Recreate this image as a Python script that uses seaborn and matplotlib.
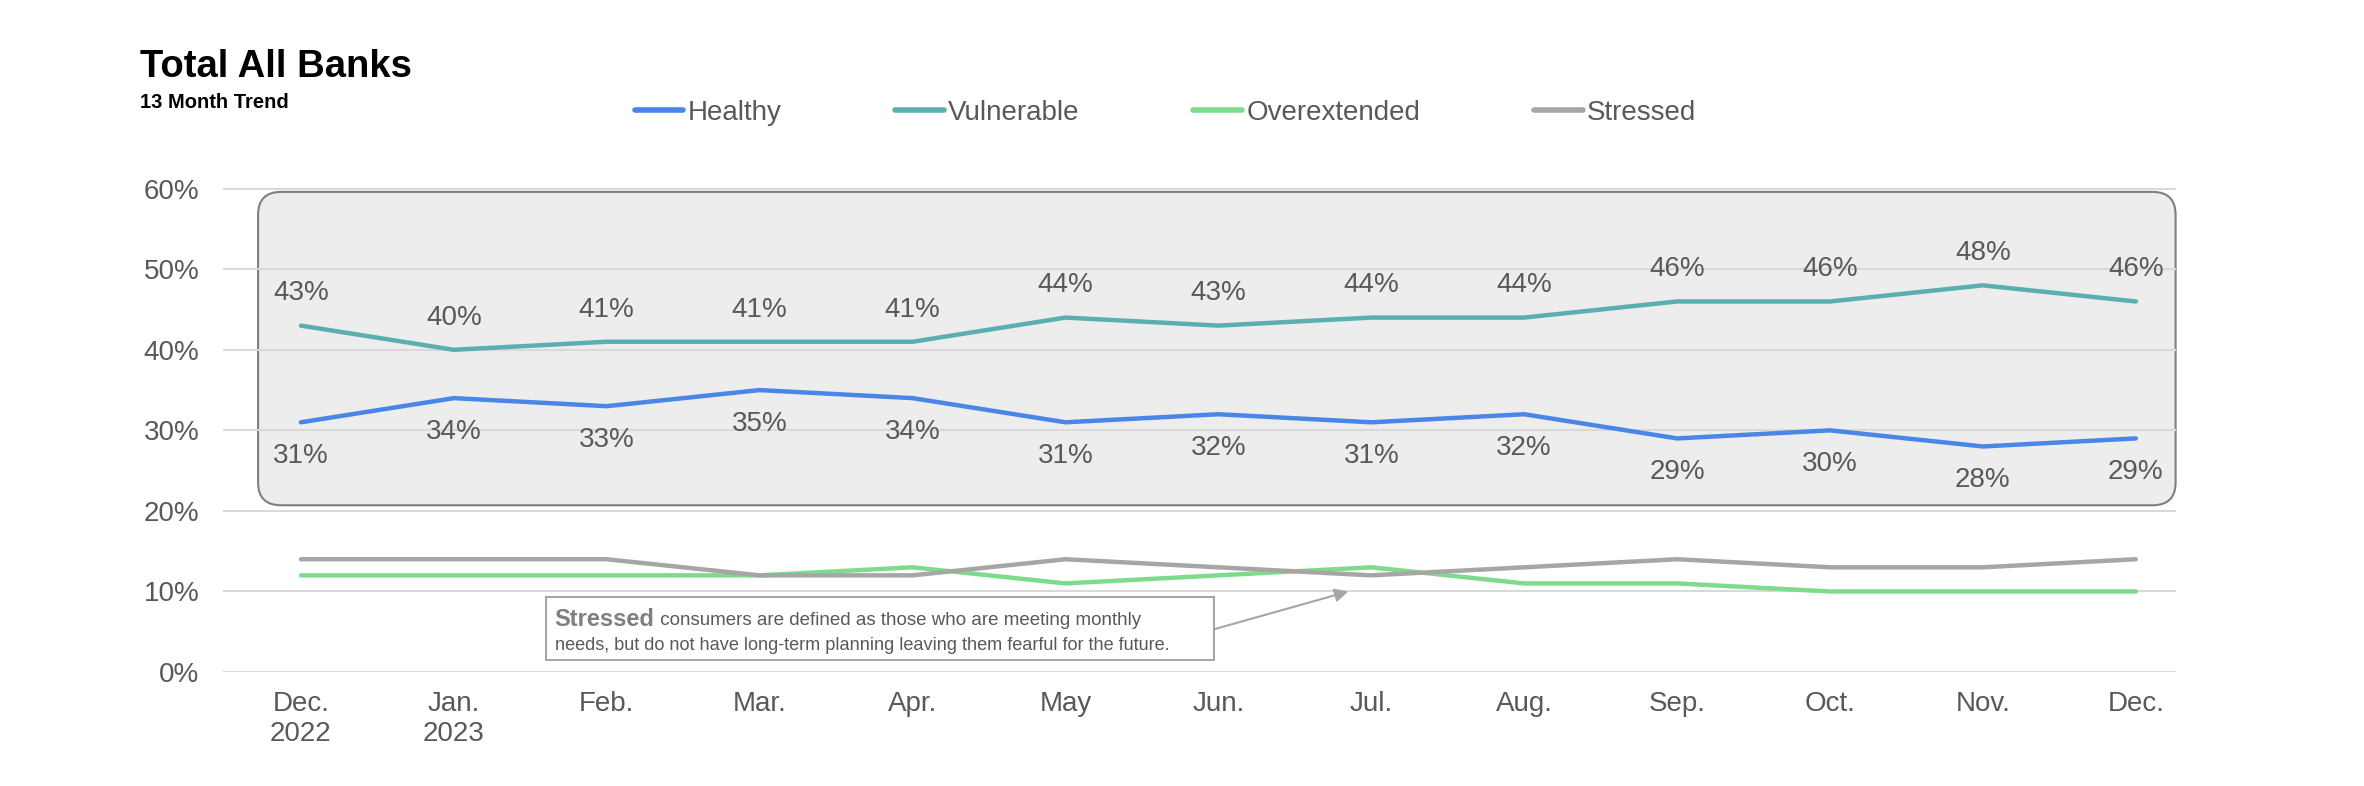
import numpy as np
import pandas as pd
import seaborn as sns
import matplotlib.pyplot as plt
from matplotlib.patches import FancyBboxPatch, Rectangle

months = ["Dec.\n2022", "Jan.\n2023", "Feb.", "Mar.", "Apr.", "May", "Jun.",
          "Jul.", "Aug.", "Sep.", "Oct.", "Nov.", "Dec."]
healthy = [31, 34, 33, 35, 34, 31, 32, 31, 32, 29, 30, 28, 29]
vulnerable = [43, 40, 41, 41, 41, 44, 43, 44, 44, 46, 46, 48, 46]
overextended = [12, 12, 12, 12, 13, 11, 12, 13, 11, 11, 10, 10, 10]
stressed = [14, 14, 14, 12, 12, 14, 13, 12, 13, 14, 13, 13, 14]

series = ["Healthy", "Vulnerable", "Overextended", "Stressed"]
colors = {"Healthy": "#4A86E8", "Vulnerable": "#5BAFB0",
          "Overextended": "#7FDB8C", "Stressed": "#A6A6A6"}
txt = "#595959"

df = pd.DataFrame({"idx": np.arange(len(months)), "Healthy": healthy,
                   "Vulnerable": vulnerable, "Overextended": overextended,
                   "Stressed": stressed})
long = df.melt(id_vars="idx", var_name="series", value_name="value")

sns.set_theme(style="white")
plt.rcParams['font.family'] = ['Liberation Sans', 'DejaVu Sans']

fig = plt.figure(figsize=(23.64, 7.86), dpi=100)
ax = fig.add_axes([0.0943, 0.145, 0.826, 0.617])

sns.lineplot(data=long, x="idx", y="value", hue="series", hue_order=series,
             palette=colors, linewidth=3.2, sort=False, ax=ax)

ax.set_xlim(-0.51, 12.26)
ax.set_ylim(0, 60.2)
ax.set_yticks([0, 10, 20, 30, 40, 50, 60])
ax.set_yticklabels([f"{v}%" for v in [0, 10, 20, 30, 40, 50, 60]])
ax.set_xticks(df["idx"])
ax.set_xticklabels(months)
ax.set_xlabel("")
ax.set_ylabel("")
for s in ax.spines.values():
    s.set_visible(False)
ax.set_axisbelow(True)
ax.yaxis.grid(True, color="#D9D9D9", linewidth=1.5)
ax.xaxis.grid(False)
ax.tick_params(axis="both", length=0, labelsize=20, labelcolor=txt)
ax.tick_params(axis="y", pad=17)
ax.tick_params(axis="x", pad=14)

# grey rounded box behind Healthy / Vulnerable
box = FancyBboxPatch((-0.28, 20.7), 12.54, 38.9,
                     boxstyle="round,pad=0,rounding_size=0.15",
                     mutation_aspect=18.9, fc="#EDEDED", ec="#7F7F7F",
                     lw=1.5, zorder=0.3, clip_on=False)
ax.add_patch(box)

# data labels
for i, v in enumerate(vulnerable):
    ax.text(i, v + 4, f"{v}%", ha="center", va="center", fontsize=20, color=txt)
for i, v in enumerate(healthy):
    ax.text(i, v - 4.2, f"{v}%", ha="center", va="center", fontsize=20, color=txt)

# note box for Stressed
ax.add_patch(Rectangle((1.6, 1.5), 4.37, 7.8, fc="white", ec="#A6A6A6",
                       lw=1.5, zorder=3))
t1 = ax.text(1.66, 6.5, "Stressed", fontsize=17, weight="bold", color="#7F7F7F",
             va="center", ha="left", zorder=4)
ax.annotate(" consumers are defined as those who are meeting monthly",
            xy=(1, 0.08), xycoords=t1, va="bottom", ha="left", fontsize=13.5,
            color=txt, zorder=4)
ax.text(1.66, 3.3, "needs, but do not have long-term planning leaving them fearful for the future.",
        fontsize=13.1, color=txt, va="center", ha="left", zorder=4)
ax.annotate("", xy=(6.85, 10.0), xytext=(5.97, 5.3),
            arrowprops=dict(arrowstyle="-|>", color="#A6A6A6", lw=1.5,
                            mutation_scale=20, shrinkA=0, shrinkB=0), zorder=4)

# legend
handles, labels = ax.get_legend_handles_labels()
for h in handles:
    h.set_linewidth(4)
ax.legend(handles, labels, loc="center left", bbox_to_anchor=(0.2685, 0.856),
          bbox_transform=fig.transFigure, ncol=4, frameon=False, fontsize=20,
          labelcolor=txt, handlelength=1.75, handletextpad=0.15,
          columnspacing=4.1, borderpad=0, borderaxespad=0)

fig.text(0.0592, 0.902, "Total All Banks", fontsize=27.5, weight="bold",
         color="black", va="baseline")
fig.text(0.0592, 0.862, "13 Month Trend", fontsize=14.5, weight="bold",
         color="black", va="baseline")

fig.savefig("out.png", dpi=100)
